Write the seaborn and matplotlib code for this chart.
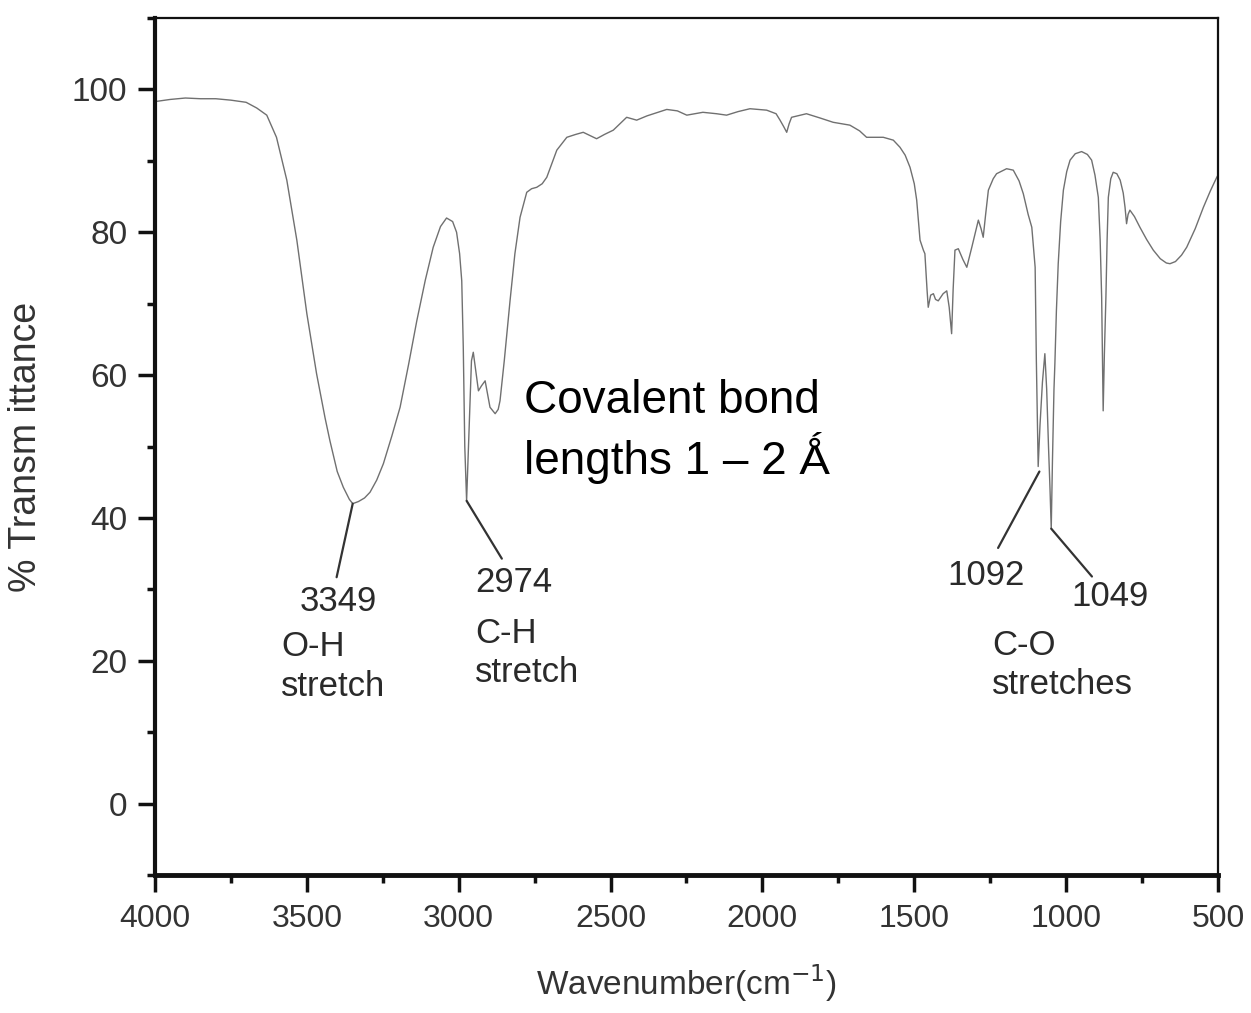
import numpy as np
import pandas as pd
import matplotlib
matplotlib.use('Agg')
import matplotlib.pyplot as plt
import seaborn as sns
from matplotlib.ticker import MultipleLocator
from matplotlib import font_manager

# IR spectrum (wavenumber in cm-1, % transmittance)
wavenumber = [4000, 3950, 3900, 3850, 3800, 3750, 3700, 3665, 3632, 3600,
              3566, 3533, 3500, 3468, 3440, 3424, 3400, 3380, 3360, 3349,
              3330, 3310, 3292, 3270, 3248, 3220, 3193, 3165, 3138, 3110,
              3084, 3060, 3040, 3020, 3007, 2997, 2990, 2985, 2980, 2974,
              2966, 2958, 2952, 2945, 2935, 2925, 2913, 2897, 2880, 2870,
              2864, 2850, 2831, 2815, 2798, 2776, 2760, 2743, 2725, 2710,
              2690, 2677, 2644, 2615, 2590, 2546, 2520, 2491, 2447, 2414,
              2380, 2315, 2280, 2249, 2196, 2151, 2118, 2080, 2041, 1986,
              1955, 1942, 1930, 1920, 1912, 1904, 1855, 1810, 1767, 1712,
              1680, 1657, 1602, 1569, 1547, 1530, 1514, 1500, 1492, 1481,
              1470, 1465, 1458, 1454, 1446, 1437, 1430, 1421, 1405, 1393,
              1385, 1377, 1372, 1366, 1355, 1340, 1327, 1310, 1289, 1280,
              1273, 1265, 1256, 1240, 1229, 1196, 1174, 1155, 1141, 1125,
              1113, 1102, 1098, 1094, 1092, 1086, 1078, 1070, 1064, 1058,
              1053, 1049, 1045, 1040, 1037, 1032, 1026, 1018, 1009, 998,
              987, 970, 949, 930, 916, 905, 894, 888, 883, 878,
              874, 869, 865, 861, 853, 845, 833, 822, 812, 806,
              801, 796, 790, 775, 757, 735, 713, 690, 670, 658,
              640, 620, 603, 575, 548, 525, 504, 500]
transmittance = [98.3, 98.6, 98.8, 98.7, 98.7, 98.5, 98.2, 97.4, 96.4, 93.3,
                 87.3, 78.9, 68.6, 60.2, 54.0, 50.8, 46.5, 44.3, 42.6, 42.0,
                 42.3, 42.8, 43.6, 45.3, 47.6, 51.5, 55.5, 61.5, 67.6, 73.3,
                 77.9, 80.8, 82.0, 81.5, 80.0, 77.0, 73.2, 64.0, 50.0, 42.4,
                 52.0, 62.0, 63.2, 61.0, 57.8, 58.5, 59.2, 55.5, 54.6, 55.2,
                 56.4, 62.0, 70.4, 77.0, 82.1, 85.6, 86.1, 86.3, 86.8, 87.7,
                 90.0, 91.5, 93.3, 93.7, 94.0, 93.1, 93.7, 94.3, 96.1, 95.7,
                 96.3, 97.2, 97.0, 96.4, 96.8, 96.6, 96.4, 96.9, 97.3, 97.1,
                 96.6, 95.7, 94.8, 94.0, 95.2, 96.1, 96.6, 96.0, 95.4, 95.0,
                 94.2, 93.3, 93.3, 92.9, 91.9, 90.8, 89.1, 86.8, 84.5, 78.9,
                 77.5, 77.0, 72.0, 69.5, 71.2, 71.4, 70.6, 70.4, 71.4, 71.8,
                 69.5, 65.8, 72.0, 77.5, 77.7, 76.2, 75.1, 78.0, 81.7, 80.5,
                 79.3, 82.5, 85.9, 87.5, 88.2, 88.9, 88.7, 87.2, 85.4, 82.5,
                 80.7, 75.1, 62.0, 52.0, 47.2, 53.0, 59.0, 63.0, 58.0, 50.0,
                 44.0, 38.5, 48.0, 58.0, 61.6, 69.0, 75.6, 81.5, 85.9, 88.5,
                 90.1, 91.0, 91.3, 90.9, 90.1, 88.0, 84.9, 79.0, 70.9, 55.0,
                 63.0, 70.9, 79.0, 84.9, 87.5, 88.4, 88.2, 87.3, 85.5, 83.5,
                 81.2, 82.5, 83.1, 82.2, 80.7, 79.0, 77.5, 76.3, 75.7, 75.6,
                 75.9, 76.8, 77.9, 80.5, 83.5, 85.8, 87.7, 88.0]

# labelled peaks
peak_labels = ['3349', '2974', '1092', '1049']
peak_wn = [3349, 2974, 1088, 1049]
peak_t = [42.0, 42.4, 46.5, 38.5]
group_labels = ['O-H\nstretch', 'C-H\nstretch', 'C-O\nstretches']
note_text = 'Covalent bond\nlengths 1 \u2013 2 \u01FA'

df = pd.DataFrame({'wavenumber': wavenumber, 'T': transmittance})

sns.set_style('ticks')
plt.rcParams['font.family'] = ['Liberation Sans', 'DejaVu Sans']
installed = {f.name for f in font_manager.fontManager.ttflist}
narrow = ['Liberation Sans Narrow', 'Liberation Sans', 'DejaVu Sans'] \
    if 'Liberation Sans Narrow' in installed else ['Liberation Sans', 'DejaVu Sans']

fig = plt.figure(figsize=(12.51, 10.13), dpi=100)
ax = fig.add_axes([0.1239, 0.1362, 0.8497, 0.846])

sns.lineplot(data=df, x='wavenumber', y='T', ax=ax, sort=False, estimator=None,
             color='#707070', lw=1.0)

ax.set_xlim(4000, 500)
ax.set_ylim(-10, 110)
ax.xaxis.set_major_locator(MultipleLocator(500))
ax.xaxis.set_minor_locator(MultipleLocator(250))
ax.set_yticks([0, 20, 40, 60, 80, 100])
ax.yaxis.set_minor_locator(MultipleLocator(10))

ax.tick_params(which='major', direction='out', length=12, width=2.5, colors='#111')
ax.tick_params(which='minor', direction='out', length=6, width=2.5, colors='#111')
ax.tick_params(axis='y', labelsize=24, pad=8, labelcolor='#333')
ax.tick_params(axis='x', labelsize=23, pad=9, labelcolor='#333')
for lab in ax.get_xticklabels():
    lab.set_family(narrow)

ax.spines['left'].set_linewidth(3)
ax.spines['bottom'].set_linewidth(3.5)
ax.spines['top'].set_linewidth(1.6)
ax.spines['right'].set_linewidth(1.6)
for s in ax.spines.values():
    s.set_color('#111')

ax.set_xlabel('Wavenumber(cm$^{-1}$)', fontsize=24, color='#333', labelpad=20, family=narrow)
ax.set_ylabel('% Transm ittance', fontsize=27, color='#333', labelpad=20, family=narrow)

# leader lines and peak labels
tip_wn = [3402, 2858, 1224, 915]
tip_t = [31.7, 34.3, 35.8, 31.8]
for w, t, w2, t2 in zip(peak_wn, peak_t, tip_wn, tip_t):
    ax.annotate('', xy=(w, t), xytext=(w2, t2),
                arrowprops=dict(arrowstyle='-', color='#333', lw=1.6, shrinkA=0, shrinkB=0))

txt = dict(fontsize=25, color='#2a2a2a')
ax.text(3397, 28.3, peak_labels[0], ha='center', va='center', **txt)
ax.text(2946, 31.0, peak_labels[1], ha='left', va='center', **txt)
ax.text(1264, 31.9, peak_labels[2], ha='center', va='center', **txt)
ax.text(856, 29.0, peak_labels[3], ha='center', va='center', **txt)

ax.text(3585, 19.2, group_labels[0], ha='left', va='center', linespacing=1.25, **txt)
ax.text(2946, 21.1, group_labels[1], ha='left', va='center', linespacing=1.25, **txt)
ax.text(1244, 19.4, group_labels[2], ha='left', va='center', linespacing=1.25, **txt)

ax.text(2785, 52.1, note_text, ha='left', va='center', fontsize=33,
        color='black', linespacing=1.22)

fig.savefig('out.png', dpi=100)
